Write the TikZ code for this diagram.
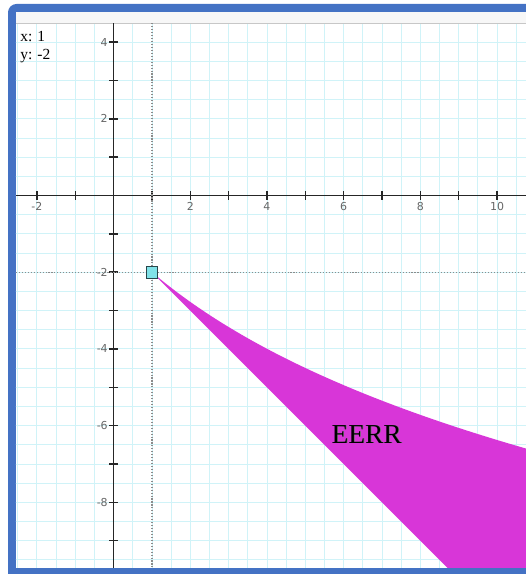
\documentclass[tikz,border=0pt]{standalone}
\usepackage{fontspec}
\setmainfont{Liberation Serif}
\newfontfamily\tickfont{DejaVu Sans}
\usepackage{tikz}

\definecolor{frameblue}{RGB}{68,114,196}
\definecolor{gridcyan}{RGB}{208,243,248}
\definecolor{regionpink}{RGB}{216,54,216}
\definecolor{markcyan}{RGB}{128,226,232}
\definecolor{markedge}{RGB}{40,70,75}

\begin{document}
\begin{tikzpicture}[x=0.959cm, y=0.959cm,
  axisline/.style={draw=black!85, line width=1pt},
  tickmark/.style={draw=black!85, line width=1pt},
  ticklbl/.style={font=\tickfont\fontsize{7.8}{9}\selectfont, text=black!60, inner sep=1pt},
  guide/.style={draw=black!45, line width=0.8pt, dash pattern=on 0.8pt off 1.3pt},
  readout/.style={font=\fontsize{11}{13}\selectfont, anchor=base west, inner sep=0pt},
  pointbox/.style={rectangle, draw=markedge, fill=markcyan, line width=0.7pt, minimum size=0.29cm, inner sep=0pt},
  regionlbl/.style={font=\fontsize{19.5}{22}\selectfont, anchor=base, inner sep=0pt},
]
\path[use as bounding box] (-2.962,-9.870) rectangle (10.754,5.098);
\clip (-2.962,-9.870) rectangle (10.754,5.098);

% window frame
\fill[frameblue, rounded corners=6pt] (-2.753,-10.2) rectangle (11.2,4.994);
\fill[white] (-2.545,-9.713) rectangle (11.2,4.785);
\fill[black!3] (-2.545,4.785) rectangle (11.2,4.50);
\draw[black!22, line width=0.8pt] (-2.545,4.49) -- (10.754,4.49);

\begin{scope}
\clip (-2.545,-9.713) rectangle (10.754,4.47);
\draw[gridcyan, line width=0.6pt, step=0.5] (-3,-10) grid (11,4.5);
\fill[regionpink] plot[domain=1:11.2, samples=80] (\x, {-2-4.25*ln(1+0.2*(\x-1))})
  -- (11.2,-10.2) -- (9.2,-10.2) -- cycle;
\end{scope}

% axes
\draw[axisline] (-2.545,0) -- (10.754,0);
\draw[axisline] (0,4.49) -- (0,-9.713);
\foreach \t in {-2,-1,1,2,...,10}
  \draw[tickmark] (\t,-0.11) -- (\t,0.11);
\foreach \t in {-9,...,-1,1,2,3,4}
  \draw[tickmark] (-0.11,\t) -- (0.11,\t);
\foreach \t in {-2,2,4,6,8,10}
  \node[ticklbl, anchor=north] (xl\t) at (\t,-0.13) {\t};
\foreach \t in {-8,-6,-4,-2,2,4}
  \node[ticklbl, anchor=east] (yl\t) at (-0.11,\t) {\t};

% cursor guides
\draw[guide] (1,4.49) -- (1,-9.713);
\draw[guide] (-2.545,-2) -- (10.754,-2);

\node[pointbox] (cursor) at (1,-2) {};
\node[readout] (xread) at (-2.44,4.01) {x: 1};
\node[readout] (yread) at (-2.44,3.55) {y: -2};
\node[regionlbl, text=black!55] at (6.62,-6.48) {EERR};
\node[regionlbl] (eerr) at (6.6,-6.46) {EERR};
\end{tikzpicture}
\end{document}
